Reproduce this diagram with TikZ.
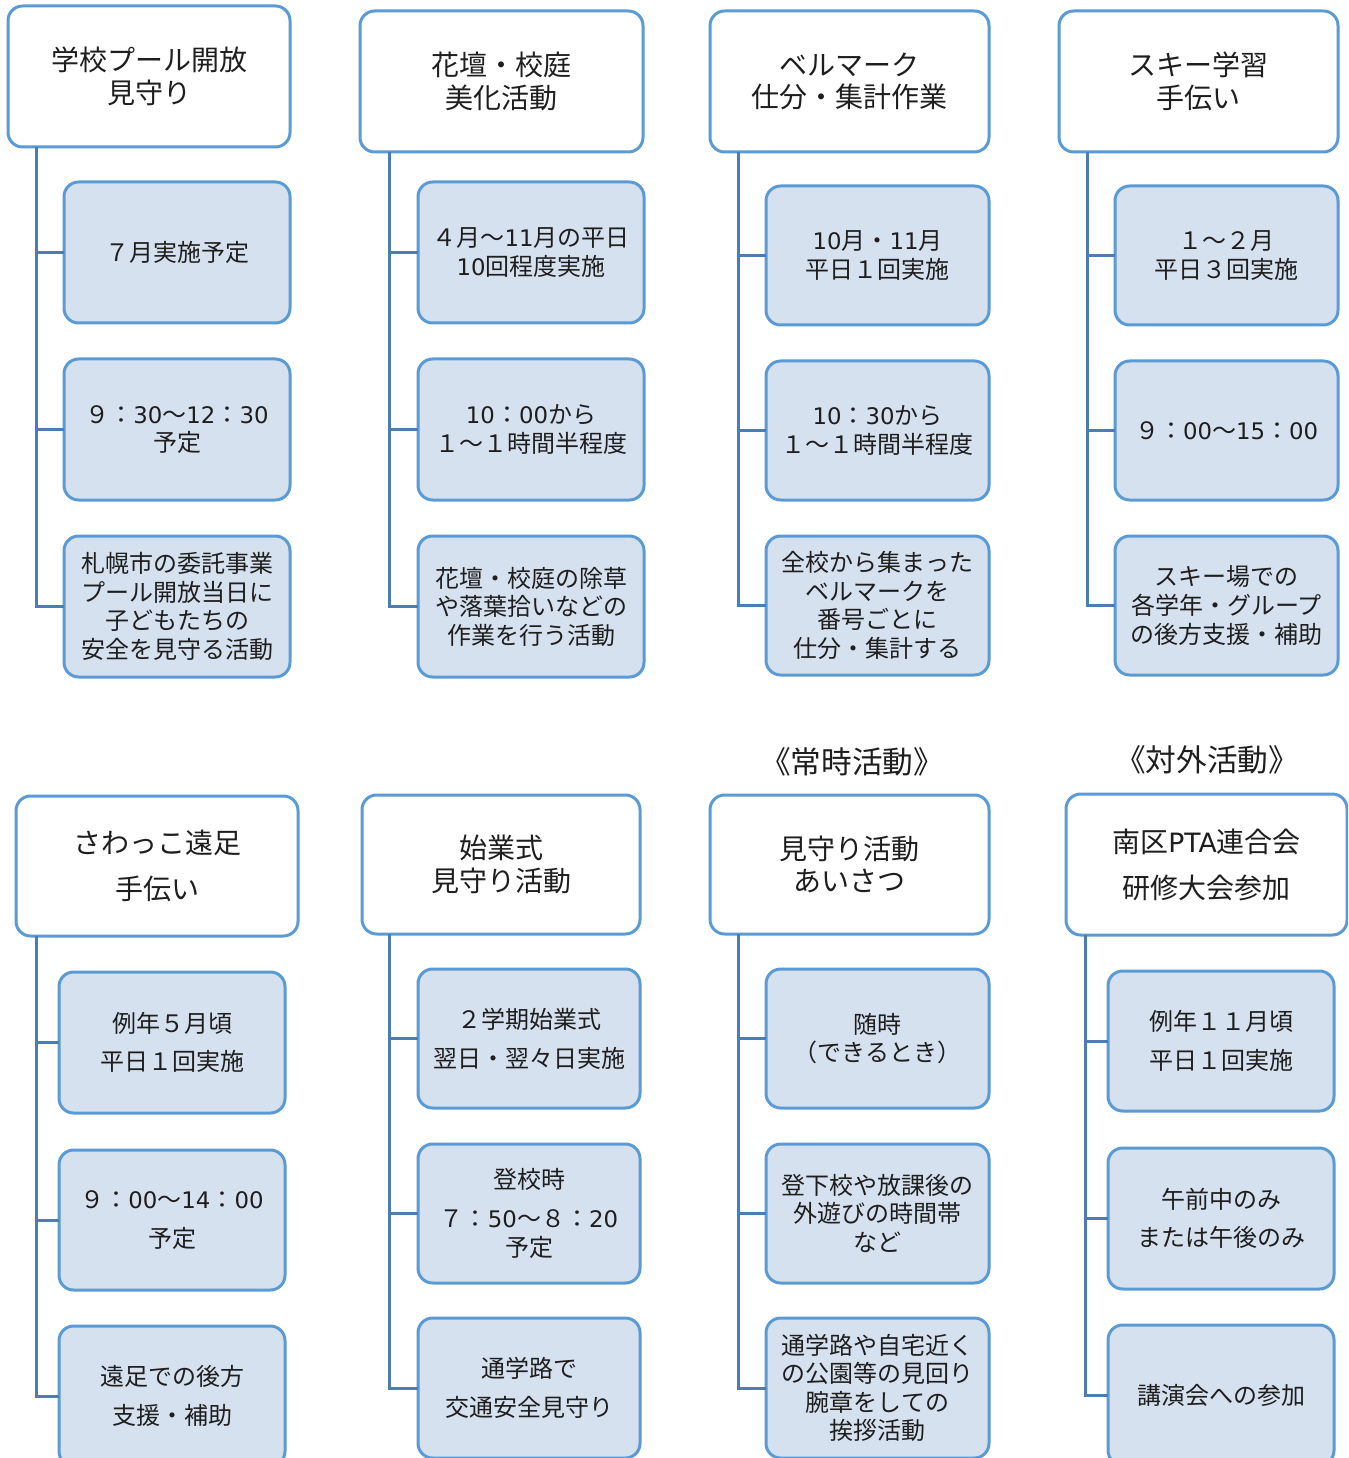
\documentclass[tikz,border=0pt]{standalone}
\usepackage{fontspec}
\setmainfont{Noto Sans CJK JP}
\newfontfamily\numfont[Scale=0.95]{DejaVu Sans}
\newcommand{\nm}[1]{{\numfont #1}}
\definecolor{bordc}{HTML}{5B9BD5}
\definecolor{fillc}{HTML}{D6E1F0}
\definecolor{connc}{HTML}{4B7CB3}
\definecolor{txtc}{HTML}{1E1E1E}
\tikzset{
  sz/.style 2 args={minimum width={(#1)*0.75pt},minimum height={(#2)*0.75pt}},
  topbox/.style={draw=bordc,line width=2.25pt,fill=white,rounded corners=11pt,
     inner sep=0pt,outer sep=0pt,align=center,text=txtc,font=\fontsize{21}{24.5}\selectfont},
  subbox/.style={draw=bordc,line width=2.25pt,fill=fillc,rounded corners=11pt,
     inner sep=0pt,outer sep=0pt,align=center,text=txtc,font=\fontsize{18}{21.4}\selectfont},
  wide/.style={font=\fontsize{18}{29}\selectfont},
  widetop/.style={font=\fontsize{21}{34.5}\selectfont},
  conn/.style={draw=connc,line width=2.25pt},
  catlabel/.style={text=txtc,font=\fontsize{23}{26}\selectfont,inner sep=0pt}
}
\begin{document}
\begin{tikzpicture}[x=0.75pt,y=-0.75pt]
\useasboundingbox (0,0) rectangle (1348,1458);
\clip (0,0) rectangle (1348,1458);
\fill[white] (0,0) rectangle (1348,1458);

% ---------- Row 1 ----------
\node[topbox,sz={282}{141}] (t1) at (149,76.5) {学校プール開放\\見守り};
\node[topbox,sz={283}{141}] (t2) at (501.5,81.5) {花壇・校庭\\美化活動};
\node[topbox,sz={279}{141}] (t3) at (849.5,81.5) {ベルマーク\\仕分・集計作業};
\node[topbox,sz={279}{141}] (t4) at (1198.5,81.5) {スキー学習\\手伝い};

\node[subbox,sz={226}{141}] (a1) at (177,252.5) {７月実施予定};
\node[subbox,sz={226}{141}] (a2) at (177,429.5) {９：\nm{30}～\nm{12}：\nm{30}\\予定};
\node[subbox,sz={226}{141}] (a3) at (177,606.5) {札幌市の委託事業\\プール開放当日に\\子どもたちの\\安全を見守る活動};

\node[subbox,sz={226}{141}] (b1) at (531,252.5) {４月～\nm{11}月の平日\\\nm{10}回程度実施};
\node[subbox,sz={226}{141}] (b2) at (531,429.5) {\nm{10}：\nm{00}から\\１～１時間半程度};
\node[subbox,sz={226}{141}] (b3) at (531,606.5) {花壇・校庭の除草\\や落葉拾いなどの\\作業を行う活動};

\node[subbox,sz={223}{139}] (c1) at (877.5,255.5) {\nm{10}月・\nm{11}月\\平日１回実施};
\node[subbox,sz={223}{139}] (c2) at (877.5,430.5) {\nm{10}：\nm{30}から\\１～１時間半程度};
\node[subbox,sz={223}{139}] (c3) at (877.5,605.5) {全校から集まった\\ベルマークを\\番号ごとに\\仕分・集計する};

\node[subbox,sz={223}{139}] (e1) at (1226.5,255.5) {１～２月\\平日３回実施};
\node[subbox,sz={223}{139}] (e2) at (1226.5,430.5) {９：\nm{00}～\nm{15}：\nm{00}};
\node[subbox,sz={223}{139}] (e3) at (1226.5,605.5) {スキー場での\\各学年・グループ\\の後方支援・補助};

\draw[conn] ([xshift=21pt]t1.south west) |- (a3.west);
\draw[conn] ([xshift=21pt]t1.south west) |- (a1.west);
\draw[conn] ([xshift=21pt]t1.south west) |- (a2.west);
\draw[conn] ([xshift=21.75pt]t2.south west) |- (b3.west);
\draw[conn] ([xshift=21.75pt]t2.south west) |- (b1.west);
\draw[conn] ([xshift=21.75pt]t2.south west) |- (b2.west);
\draw[conn] ([xshift=21pt]t3.south west) |- (c3.west);
\draw[conn] ([xshift=21pt]t3.south west) |- (c1.west);
\draw[conn] ([xshift=21pt]t3.south west) |- (c2.west);
\draw[conn] ([xshift=21pt]t4.south west) |- (e3.west);
\draw[conn] ([xshift=21pt]t4.south west) |- (e1.west);
\draw[conn] ([xshift=21pt]t4.south west) |- (e2.west);

% ---------- Category labels ----------
\node[catlabel] (lab1) at (852,762) {《常時活動》};
\node[catlabel] (lab2) at (1207,760) {《対外活動》};

% ---------- Row 2 ----------
\node[topbox,widetop,sz={282}{140}] (u1) at (157,866) {さわっこ遠足\\手伝い};
\node[topbox,sz={278}{139}] (u2) at (501,864.5) {始業式\\見守り活動};
\node[topbox,sz={279}{139}] (u3) at (849.5,864.5) {見守り活動\\あいさつ};
\node[topbox,widetop,sz={281}{141}] (u4) at (1206.5,864.5) {南区\nm{PTA}連合会\\研修大会参加};

\node[subbox,wide,sz={226}{141}] (f1) at (172,1042.5) {例年５月頃\\平日１回実施};
\node[subbox,wide,sz={226}{140}] (f2) at (172,1220) {９：\nm{00}～\nm{14}：\nm{00}\\予定};
\node[subbox,wide,sz={226}{140}] (f3) at (172,1396) {遠足での後方\\支援・補助};

\node[subbox,wide,sz={222}{139}] (g1) at (529,1038.5) {２学期始業式\\翌日・翌々日実施};
\node[subbox,sz={222}{139}] (g2) at (529,1213.5) {登校時\\[8pt]７：\nm{50}～８：\nm{20}\\予定};
\node[subbox,wide,sz={222}{140}] (g3) at (529,1388) {通学路で\\交通安全見守り};

\node[subbox,sz={223}{139}] (h1) at (877.5,1038.5) {随時\\（できるとき）};
\node[subbox,sz={223}{139}] (h2) at (877.5,1213.5) {登下校や放課後の\\外遊びの時間帯\\など};
\node[subbox,sz={223}{140}] (h3) at (877.5,1388) {通学路や自宅近く\\の公園等の見回り\\腕章をしての\\挨拶活動};

\node[subbox,wide,sz={226}{140}] (k1) at (1221,1041) {例年１１月頃\\平日１回実施};
\node[subbox,wide,sz={226}{141}] (k2) at (1221,1218.5) {午前中のみ\\または午後のみ};
\node[subbox,wide,sz={226}{140}] (k3) at (1221,1395) {講演会への参加};

\draw[conn] ([xshift=15pt]u1.south west) |- (f3.west);
\draw[conn] ([xshift=15pt]u1.south west) |- (f1.west);
\draw[conn] ([xshift=15pt]u1.south west) |- (f2.west);
\draw[conn] ([xshift=20.25pt]u2.south west) |- (g3.west);
\draw[conn] ([xshift=20.25pt]u2.south west) |- (g1.west);
\draw[conn] ([xshift=20.25pt]u2.south west) |- (g2.west);
\draw[conn] ([xshift=21pt]u3.south west) |- (h3.west);
\draw[conn] ([xshift=21pt]u3.south west) |- (h1.west);
\draw[conn] ([xshift=21pt]u3.south west) |- (h2.west);
\draw[conn] ([xshift=14.25pt]u4.south west) |- (k3.west);
\draw[conn] ([xshift=14.25pt]u4.south west) |- (k1.west);
\draw[conn] ([xshift=14.25pt]u4.south west) |- (k2.west);
\end{tikzpicture}
\end{document}
